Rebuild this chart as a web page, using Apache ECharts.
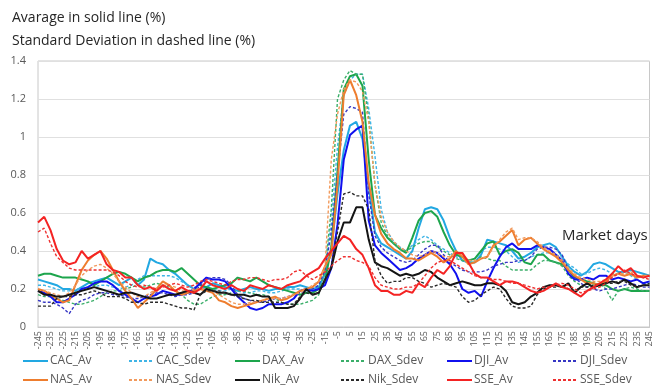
<!DOCTYPE html>
<html>
<head>
<meta charset="utf-8">
<script src="https://cdn.jsdelivr.net/npm/echarts@6/dist/echarts.min.js"></script>
<style>
  html, body { margin: 0; padding: 0; background: #ffffff; }
  #chart { width: 654px; height: 389px; }
</style>
</head>
<body>
<div id="chart"></div>
<script>
// Market days relative to the event (every 5th day)
const days = [
  -245,-240,-235,-230,-225,-220,-215,-210,-205,-200,
  -195,-190,-185,-180,-175,-170,-165,-160,-155,-150,
  -145,-140,-135,-130,-125,-120,-115,-110,-105,-100,
  -95,-90,-85,-80,-75,-70,-65,-60,-55,-50,
  -45,-40,-35,-30,-25,-20,-15,-10,-5,0,
  5,10,15,20,25,30,35,40,45,50,
  55,60,65,70,75,80,85,90,95,100,
  105,110,115,120,125,130,135,140,145,150,
  155,160,165,170,175,180,185,190,195,200,
  205,210,215,220,225,230,235,240,245
];

const yTicks = { min: 0, max: 1.4, step: 0.2 };

const cacAv = [
  0.25,0.24,0.23,0.22,0.20,0.20,0.19,0.21,0.23,0.24,
  0.25,0.26,0.24,0.22,0.24,0.26,0.22,0.25,0.36,0.34,
  0.33,0.30,0.28,0.25,0.22,0.20,0.20,0.21,0.23,0.22,
  0.21,0.20,0.19,0.20,0.21,0.20,0.20,0.19,0.20,0.20,
  0.21,0.21,0.22,0.21,0.20,0.21,0.28,0.40,0.70,0.93,
  1.06,1.08,0.99,0.74,0.50,0.44,0.42,0.40,0.38,0.36,
  0.40,0.52,0.62,0.63,0.62,0.56,0.47,0.40,0.35,0.34,
  0.34,0.38,0.46,0.45,0.44,0.43,0.40,0.36,0.37,0.39,
  0.42,0.43,0.44,0.42,0.37,0.32,0.29,0.27,0.29,0.33,
  0.34,0.33,0.31,0.29,0.29,0.30,0.29,0.28,0.27
];
const cacSdev = [
  0.22,0.22,0.21,0.20,0.19,0.19,0.20,0.20,0.21,0.21,
  0.22,0.22,0.21,0.20,0.21,0.22,0.25,0.27,0.27,0.27,
  0.27,0.27,0.26,0.24,0.22,0.21,0.20,0.20,0.20,0.19,
  0.19,0.20,0.19,0.18,0.18,0.19,0.19,0.18,0.18,0.19,
  0.20,0.20,0.20,0.19,0.20,0.22,0.30,0.55,0.95,1.22,
  1.30,1.33,1.33,1.15,0.90,0.62,0.50,0.45,0.42,0.40,
  0.43,0.46,0.48,0.46,0.43,0.41,0.39,0.37,0.35,0.34,
  0.36,0.40,0.42,0.42,0.41,0.40,0.37,0.34,0.35,0.37,
  0.38,0.39,0.39,0.38,0.37,0.33,0.31,0.28,0.28,0.30,
  0.31,0.30,0.28,0.28,0.29,0.27,0.25,0.23,0.23
];
const daxAv = [
  0.27,0.28,0.28,0.27,0.26,0.26,0.26,0.25,0.24,0.22,
  0.24,0.26,0.28,0.29,0.28,0.26,0.24,0.26,0.27,0.29,
  0.30,0.30,0.29,0.31,0.28,0.25,0.22,0.21,0.20,0.21,
  0.22,0.23,0.26,0.25,0.24,0.26,0.24,0.22,0.21,0.20,
  0.19,0.18,0.17,0.18,0.18,0.20,0.24,0.42,0.82,1.25,
  1.32,1.33,1.27,0.88,0.59,0.52,0.47,0.44,0.41,0.39,
  0.47,0.56,0.60,0.61,0.58,0.50,0.43,0.38,0.37,0.35,
  0.36,0.40,0.44,0.45,0.38,0.40,0.41,0.39,0.34,0.33,
  0.38,0.38,0.35,0.34,0.33,0.30,0.26,0.25,0.24,0.23,
  0.22,0.22,0.20,0.19,0.20,0.19,0.19,0.19,0.19
];
const daxSdev = [
  0.17,0.16,0.16,0.15,0.14,0.13,0.12,0.12,0.13,0.14,
  0.16,0.18,0.19,0.19,0.20,0.21,0.22,0.21,0.22,0.23,
  0.22,0.21,0.19,0.17,0.14,0.12,0.12,0.14,0.16,0.17,
  0.17,0.18,0.19,0.19,0.18,0.17,0.17,0.16,0.15,0.13,
  0.12,0.12,0.12,0.13,0.14,0.17,0.30,0.62,1.20,1.30,
  1.35,1.33,1.33,1.10,0.75,0.55,0.48,0.44,0.41,0.40,
  0.42,0.44,0.45,0.45,0.42,0.40,0.38,0.36,0.35,0.34,
  0.34,0.37,0.36,0.35,0.35,0.32,0.30,0.30,0.30,0.30,
  0.33,0.35,0.35,0.34,0.32,0.27,0.24,0.22,0.21,0.22,
  0.23,0.20,0.14,0.19,0.20,0.21,0.20,0.19,0.19
];
const djiAv = [
  0.19,0.18,0.16,0.13,0.13,0.15,0.17,0.20,0.21,0.23,
  0.24,0.24,0.22,0.19,0.17,0.15,0.13,0.15,0.16,0.17,
  0.19,0.18,0.17,0.17,0.18,0.20,0.23,0.26,0.25,0.25,
  0.24,0.20,0.16,0.13,0.10,0.09,0.10,0.12,0.12,0.12,
  0.13,0.15,0.19,0.20,0.19,0.20,0.22,0.31,0.54,0.88,
  1.01,1.04,1.06,0.56,0.43,0.39,0.36,0.33,0.30,0.31,
  0.33,0.36,0.38,0.40,0.39,0.36,0.33,0.28,0.20,0.18,
  0.19,0.16,0.24,0.31,0.37,0.42,0.44,0.41,0.41,0.41,
  0.43,0.42,0.41,0.38,0.35,0.28,0.25,0.25,0.26,0.25,
  0.27,0.27,0.25,0.26,0.25,0.24,0.25,0.23,0.24
];
const djiSdev = [
  0.14,0.13,0.13,0.12,0.10,0.07,0.12,0.14,0.15,0.17,
  0.18,0.18,0.17,0.17,0.16,0.15,0.15,0.16,0.17,0.18,
  0.18,0.17,0.16,0.17,0.17,0.18,0.22,0.25,0.26,0.26,
  0.25,0.22,0.17,0.15,0.14,0.13,0.13,0.14,0.15,0.15,
  0.16,0.17,0.18,0.19,0.20,0.22,0.30,0.50,0.80,1.12,
  1.16,1.15,1.13,0.70,0.48,0.42,0.39,0.37,0.35,0.34,
  0.35,0.38,0.41,0.43,0.43,0.38,0.34,0.32,0.30,0.29,
  0.29,0.29,0.30,0.32,0.33,0.34,0.34,0.35,0.35,0.37,
  0.41,0.42,0.42,0.41,0.38,0.30,0.26,0.23,0.21,0.20,
  0.19,0.20,0.20,0.21,0.22,0.23,0.22,0.21,0.21
];
const nasAv = [
  0.20,0.19,0.17,0.15,0.13,0.14,0.22,0.30,0.35,0.38,
  0.40,0.36,0.30,0.24,0.19,0.15,0.10,0.13,0.16,0.20,
  0.24,0.22,0.19,0.17,0.18,0.19,0.20,0.19,0.18,0.14,
  0.13,0.11,0.10,0.11,0.12,0.13,0.14,0.15,0.16,0.14,
  0.15,0.17,0.19,0.20,0.21,0.24,0.32,0.38,0.75,1.22,
  1.30,1.22,1.08,0.76,0.59,0.49,0.44,0.41,0.39,0.36,
  0.36,0.35,0.37,0.39,0.37,0.34,0.36,0.40,0.37,0.33,
  0.34,0.36,0.37,0.43,0.45,0.48,0.51,0.43,0.46,0.47,
  0.44,0.41,0.39,0.37,0.34,0.30,0.27,0.25,0.23,0.23,
  0.22,0.24,0.27,0.28,0.27,0.28,0.26,0.27,0.27
];
const nasSdev = [
  0.19,0.19,0.18,0.17,0.16,0.18,0.22,0.27,0.30,0.32,
  0.33,0.31,0.28,0.24,0.21,0.18,0.16,0.16,0.18,0.20,
  0.22,0.22,0.21,0.19,0.19,0.20,0.20,0.20,0.19,0.17,
  0.15,0.13,0.12,0.12,0.13,0.13,0.14,0.15,0.15,0.15,
  0.16,0.17,0.18,0.20,0.22,0.24,0.32,0.88,1.12,1.25,
  1.30,1.29,1.24,1.08,0.75,0.58,0.50,0.45,0.42,0.40,
  0.38,0.37,0.38,0.40,0.39,0.37,0.37,0.39,0.38,0.35,
  0.35,0.36,0.37,0.42,0.46,0.50,0.52,0.46,0.47,0.47,
  0.45,0.42,0.40,0.38,0.35,0.31,0.28,0.26,0.25,0.24,
  0.24,0.25,0.27,0.28,0.28,0.29,0.27,0.27,0.27
];
const nikAv = [
  0.19,0.17,0.17,0.16,0.16,0.17,0.18,0.19,0.20,0.21,
  0.20,0.19,0.18,0.17,0.18,0.18,0.17,0.16,0.15,0.15,
  0.16,0.17,0.17,0.18,0.19,0.18,0.17,0.20,0.19,0.18,
  0.18,0.17,0.17,0.17,0.16,0.17,0.16,0.16,0.10,0.10,
  0.10,0.11,0.15,0.20,0.17,0.18,0.25,0.31,0.45,0.55,
  0.55,0.63,0.63,0.46,0.34,0.32,0.31,0.29,0.27,0.28,
  0.27,0.28,0.30,0.29,0.26,0.24,0.22,0.23,0.24,0.23,
  0.22,0.22,0.23,0.23,0.22,0.19,0.13,0.12,0.13,0.16,
  0.18,0.21,0.22,0.22,0.21,0.23,0.18,0.21,0.23,0.21,
  0.22,0.23,0.24,0.23,0.25,0.23,0.21,0.22,0.22
];
const nikSdev = [
  0.11,0.11,0.11,0.15,0.16,0.16,0.17,0.17,0.18,0.19,
  0.18,0.16,0.16,0.16,0.15,0.13,0.13,0.12,0.13,0.13,
  0.13,0.12,0.11,0.10,0.10,0.09,0.17,0.19,0.19,0.19,
  0.18,0.17,0.16,0.15,0.14,0.14,0.13,0.13,0.13,0.13,
  0.12,0.12,0.16,0.18,0.17,0.18,0.25,0.32,0.50,0.70,
  0.71,0.69,0.69,0.62,0.35,0.27,0.23,0.24,0.24,0.26,
  0.26,0.24,0.23,0.21,0.22,0.23,0.22,0.21,0.16,0.13,
  0.14,0.17,0.19,0.21,0.20,0.15,0.11,0.10,0.10,0.11,
  0.17,0.20,0.21,0.21,0.22,0.20,0.19,0.21,0.21,0.22,
  0.22,0.23,0.23,0.24,0.24,0.22,0.21,0.22,0.23
];
const sseAv = [
  0.55,0.58,0.51,0.41,0.35,0.33,0.34,0.40,0.36,0.38,
  0.40,0.33,0.30,0.29,0.26,0.26,0.22,0.20,0.21,0.19,
  0.22,0.20,0.19,0.21,0.19,0.18,0.20,0.24,0.22,0.21,
  0.20,0.22,0.20,0.19,0.22,0.21,0.20,0.22,0.21,0.20,
  0.22,0.23,0.24,0.27,0.29,0.31,0.36,0.40,0.44,0.48,
  0.46,0.41,0.38,0.31,0.22,0.19,0.19,0.17,0.17,0.19,
  0.18,0.23,0.21,0.26,0.30,0.28,0.32,0.39,0.39,0.34,
  0.28,0.26,0.26,0.24,0.22,0.24,0.24,0.23,0.21,0.19,
  0.18,0.19,0.21,0.23,0.21,0.20,0.18,0.16,0.19,0.21,
  0.23,0.25,0.28,0.32,0.29,0.31,0.27,0.26,0.27
];
const sseSdev = [
  0.50,0.52,0.44,0.37,0.34,0.31,0.30,0.30,0.30,0.30,
  0.30,0.30,0.29,0.27,0.24,0.22,0.21,0.22,0.21,0.20,
  0.21,0.22,0.23,0.22,0.21,0.22,0.24,0.25,0.24,0.23,
  0.22,0.24,0.25,0.25,0.26,0.26,0.25,0.24,0.25,0.25,
  0.26,0.29,0.30,0.27,0.25,0.27,0.29,0.32,0.35,0.37,
  0.37,0.35,0.34,0.32,0.26,0.22,0.21,0.20,0.20,0.21,
  0.21,0.23,0.27,0.31,0.34,0.35,0.35,0.33,0.31,0.29,
  0.27,0.26,0.26,0.25,0.25,0.24,0.23,0.23,0.22,0.21,
  0.20,0.21,0.21,0.22,0.23,0.22,0.20,0.18,0.19,0.20,
  0.21,0.23,0.26,0.28,0.30,0.28,0.27,0.26,0.25
];

// name, values, colour, dashed?
const seriesDefs = [
  ['CAC_Av',   cacAv,   '#22A8E2', false],
  ['CAC_Sdev', cacSdev, '#3FB4E6', true],
  ['DAX_Av',   daxAv,   '#1DA54C', false],
  ['DAX_Sdev', daxSdev, '#3BAF6A', true],
  ['DJI_Av',   djiAv,   '#1010EE', false],
  ['DJI_Sdev', djiSdev, '#3636C4', true],
  ['NAS_Av',   nasAv,   '#EE7D2E', false],
  ['NAS_Sdev', nasSdev, '#F29A5C', true],
  ['Nik_Av',   nikAv,   '#141414', false],
  ['Nik_Sdev', nikSdev, '#2A2A2A', true],
  ['SSE_Av',   sseAv,   '#F42323', false],
  ['SSE_Sdev', sseSdev, '#EE3030', true]
];

const FONT = 'Open Sans';

const series = seriesDefs.map(([name, values, color, dashed]) => ({
  name: name,
  type: 'line',
  data: values,
  symbol: 'none',
  smooth: false,
  animation: false,
  lineStyle: {
    color: color,
    width: dashed ? 1.4 : 2,
    type: dashed ? [3, 2] : 'solid'
  },
  itemStyle: { color: color }
}));

// Legend laid out in six fixed columns, two rows each; only the line sample is shown
const legendColumns = [
  ['CAC_Av', 'NAS_Av'],
  ['CAC_Sdev', 'NAS_Sdev'],
  ['DAX_Av', 'Nik_Av'],
  ['DAX_Sdev', 'Nik_Sdev'],
  ['DJI_Av', 'SSE_Av'],
  ['DJI_Sdev', 'SSE_Sdev']
];
const legendLeft = [22, 128, 234, 340, 446, 552];
const legends = legendColumns.map((names, i) => ({
  data: names,
  orient: 'vertical',
  left: legendLeft[i],
  top: 355,
  itemWidth: 25,
  itemHeight: 12,
  itemGap: 7,
  padding: 0,
  selectedMode: false,
  itemStyle: { opacity: 0 },
  textStyle: { fontFamily: FONT, fontSize: 12, color: '#595959', padding: [0, 0, 0, -3] }
}));

const chart = echarts.init(document.getElementById('chart'), null, { renderer: 'canvas' });
chart.setOption({
  animation: false,
  backgroundColor: '#ffffff',
  title: {
    text: 'Avarage in solid line (%)\nStandard Deviation in dashed line (%)',
    left: 12,
    top: 7,
    padding: 0,
    textStyle: { fontFamily: FONT, fontSize: 14, fontWeight: 'normal', color: '#262626', lineHeight: 23 }
  },
  legend: legends,
  grid: {
    left: 38, right: 3, top: 61, bottom: 62,
    show: true, borderColor: '#C8C8C8', borderWidth: 1, backgroundColor: 'transparent'
  },
  xAxis: {
    type: 'category',
    data: days,
    boundaryGap: false,
    axisTick: { show: false },
    axisLine: { show: true, lineStyle: { color: '#C8C8C8' } },
    axisLabel: {
      interval: 1,
      rotate: 90,
      margin: 4,
      fontFamily: FONT,
      fontSize: 9,
      color: '#595959'
    },
    splitLine: { show: false }
  },
  yAxis: {
    type: 'value',
    min: yTicks.min,
    max: yTicks.max,
    interval: yTicks.step,
    axisLine: { show: false },
    axisTick: { show: false },
    axisLabel: { fontFamily: FONT, fontSize: 11, color: '#595959', margin: 12 },
    splitLine: { lineStyle: { color: '#E0E0E0', width: 1 } }
  },
  graphic: [{
    type: 'text',
    left: 562,
    top: 228,
    style: { text: 'Market days', fontFamily: FONT, fontSize: 15, fill: '#262626' }
  }],
  series: series
});
</script>
</body>
</html>
